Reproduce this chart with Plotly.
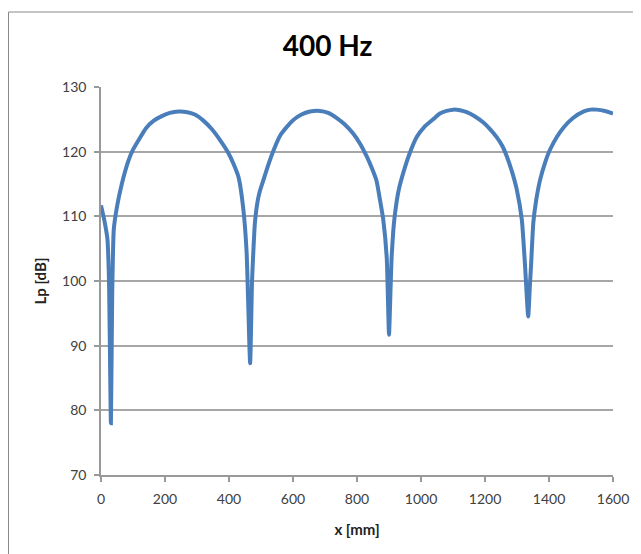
import plotly.graph_objects as go

x_mm = [0, 10, 20, 25, 31, 35, 40, 50, 65, 85, 100, 120, 140, 165, 190, 215, 242, 270, 295, 320,
        346, 372, 398, 415, 430, 445, 455, 466, 472, 476, 481, 490, 497, 510, 523, 540, 560, 580,
        601, 625, 653, 684, 710, 737, 762, 788, 810, 830, 846, 861, 872, 882, 893, 900, 905, 908,
        913, 919, 930, 945, 965, 987, 1010, 1038, 1059, 1080, 1101, 1122, 1143, 1170, 1195, 1217,
        1237, 1255, 1268, 1285, 1299, 1315, 1325, 1335, 1340, 1344, 1351, 1360, 1372, 1387, 1403,
        1425, 1445, 1475, 1507, 1530, 1549, 1575, 1600]
lp_db = [111.7, 109.5, 106.5, 100.0, 78.0, 98.0, 108.0, 111.5, 115.0, 118.5, 120.3, 122.0, 123.6,
         124.8, 125.5, 126.0, 126.2, 126.1, 125.7, 124.8, 123.5, 121.8, 119.8, 118.0, 116.0, 111.0,
         104.5, 87.3, 100.0, 104.5, 109.0, 112.5, 114.0, 116.0, 118.0, 120.3, 122.5, 123.8, 124.9,
         125.7, 126.2, 126.3, 126.0, 125.2, 124.2, 122.8, 121.2, 119.3, 117.5, 115.5, 112.5, 109.5,
         103.5, 91.7, 99.0, 103.5, 107.5, 110.5, 114.0, 116.8, 119.8, 122.3, 123.8, 125.0, 125.9,
         126.3, 126.5, 126.4, 126.1, 125.4, 124.5, 123.4, 122.2, 120.8, 119.3, 116.8, 114.2, 109.5,
         102.5, 94.5, 99.0, 102.5, 109.0, 112.5, 115.6, 118.2, 120.3, 122.3, 123.7, 125.2, 126.2,
         126.5, 126.5, 126.3, 125.9]

title_text = "400 Hz"
x_title = "x [mm]"
y_title = "Lp [dB]"
x_ticks = [0, 200, 400, 600, 800, 1000, 1200, 1400, 1600]
y_ticks = [70, 80, 90, 100, 110, 120, 130]

fig = go.Figure()
fig.add_trace(go.Scatter(x=x_mm, y=lp_db, mode="lines",
                         line=dict(color="#4a7ebb", width=4, shape="spline", smoothing=0.5),
                         showlegend=False))

tick_font = dict(family="Lato", size=14, color="#404040")
fig.update_layout(
    width=641, height=554,
    margin=dict(l=93, r=36, t=79, b=87),
    paper_bgcolor="white", plot_bgcolor="white",
    title=dict(text="<b>" + title_text + "</b>", x=319.5 / 641, xref="container", xanchor="center",
               y=1 - 38.5 / 554, yref="container", yanchor="middle",
               font=dict(family="Lato", size=28, color="black")),
    xaxis=dict(range=[0, 1600], tickvals=x_ticks, showgrid=False, zeroline=False,
               showline=True, linecolor="#999999", linewidth=1.5,
               ticks="outside", ticklen=5, tickcolor="#999999", tickwidth=1.5,
               tickfont=tick_font, ticklabelstandoff=5,
               title=dict(text="<b>" + x_title + "</b>", standoff=19,
                          font=dict(family="Lato", size=15, color="#222222"))),
    yaxis=dict(range=[70, 130], tickvals=y_ticks, showgrid=True, gridcolor="#a6a6a6", gridwidth=1.5,
               zeroline=False, showline=True, linecolor="#999999", linewidth=1.5,
               ticks="outside", ticklen=5, tickcolor="#999999", tickwidth=1.5,
               tickfont=tick_font, ticklabelstandoff=5,
               title=dict(text="<b>" + y_title + "</b>", standoff=12,
                          font=dict(family="Lato", size=15, color="#222222"))),
    shapes=[dict(type="rect", xref="paper", yref="paper",
                 x0=(0.5 - 93) / 512, x1=(680 - 93) / 512,
                 y0=-(600 - 467) / 388, y1=1 + (79 - 4) / 388,
                 line=dict(color="#888888", width=1), layer="below")],
)

fig.write_html("out.html")
